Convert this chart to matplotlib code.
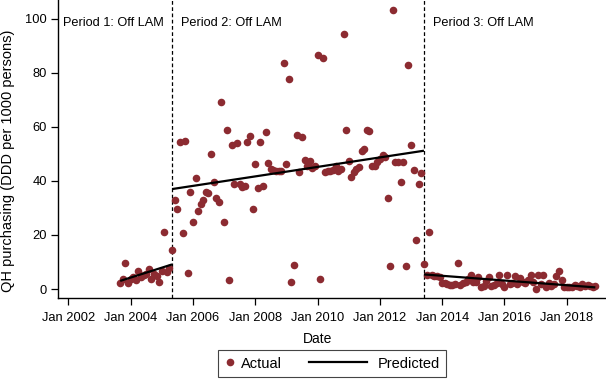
import numpy as np
import pandas as pd
import matplotlib
matplotlib.use("Agg")
import matplotlib.pyplot as plt
from matplotlib.lines import Line2D
from matplotlib.legend_handler import HandlerLine2D

plt.rcParams['font.family'] = ['Liberation Sans', 'DejaVu Sans']

# ---------------- data ----------------
period_labels = ['Period 1: Off LAM', 'Period 2: Off LAM', 'Period 3: Off LAM']
period_starts = ['2003-09-01', '2005-05-01', '2013-06-01']
breaks = ['2005-05-01', '2013-06-01']

actual_p1 = [2.1, 3.7, 9.8, 2.1, 3.8, 4.3, 3.3, 6.8, 4.6, 5.2,
             5.6, 7.4, 3.6, 5.6, 4.8, 2.6, 6.7, 21.0, 6.4, 7.9]

actual_p2 = [14.6, 32.8, 29.6, 54.6, 20.6, 54.9, 6.0, 35.9, 24.9, 41.1,
             29.0, 31.5, 33.0, 36.0, 35.7, 50.0, 39.7, 33.8, 32.3, 69.1,
             24.7, 58.9, 3.3, 53.5, 38.9, 54.2, 38.8, 37.7, 38.3, 54.4,
             56.7, 29.5, 46.4, 37.3, 54.3, 38.1, 58.0, 46.8, 44.6, 44.0,
             43.8, 43.8, 43.8, 83.7, 46.3, 77.7, 2.7, 8.8, 56.9, 43.2,
             56.2, 47.8, 45.7, 47.5, 44.7, 45.7, 86.7, 3.8, 85.4, 43.3,
             43.6, 43.8, 44.1, 45.7, 43.8, 44.3, 94.3, 59.0, 47.5, 41.5,
             43.3, 44.4, 45.3, 51.2, 51.9, 58.9, 58.5, 45.7, 45.7, 47.2,
             48.3, 49.5, 48.8, 33.8, 8.5, 103.3, 47.0, 47.0, 39.6, 47.0,
             8.4, 83.0, 53.2, 44.1, 18.0, 39.0, 42.8]

actual_p3 = [9.4, 5.3, 21.1, 5.1, 4.8, 4.8, 4.3, 2.1, 2.3, 1.9,
             1.6, 1.4, 1.9, 9.5, 1.5, 2.3, 2.7, 3.6, 5.1, 2.7,
             2.7, 4.6, 0.9, 1.1, 3.1, 4.3, 1.1, 1.5, 2.3, 5.1,
             1.9, 0.6, 5.1, 1.9, 2.3, 4.8, 1.9, 4.0, 2.7, 2.1,
             3.3, 5.1, 2.7, 0.0, 5.1, 1.9, 5.1, 0.6, 2.1, 1.1,
             1.9, 4.8, 6.8, 3.3, 0.9, 0.9, 0.9, 0.9, 1.6, 1.1,
             0.9, 1.9, 1.1, 1.4, 1.1, 0.9, 1.1]

pred_dates = [['2003-09-01', '2005-05-01'],
              ['2005-05-01', '2013-06-01'],
              ['2013-06-01', '2018-12-01']]
pred_vals = [[3.0, 9.1], [37.0, 51.2], [5.4, 0.6]]

xtick_years = list(range(2002, 2019, 2))
yticks = [0, 20, 40, 60, 80, 100]

# ---------------- style ----------------
W, H = 606, 383
RED = '#8C2B31'

fig = plt.figure(figsize=(W / 100, H / 100), dpi=100)
ax = fig.add_axes([58 / W, (H - 298.3) / H, (W - 58) / W, 298.3 / H])

for start, vals in zip(period_starts, [actual_p1, actual_p2, actual_p3]):
    d = pd.date_range(start, periods=len(vals), freq='MS')
    ax.scatter(d, vals, s=30, color=RED, linewidths=0, zorder=3)

for dts, vals in zip(pred_dates, pred_vals):
    ax.plot(pd.to_datetime(dts), vals, color='black', lw=1.6, zorder=4,
            solid_capstyle='butt')

for b in breaks:
    ax.axvline(pd.Timestamp(b), color='black', lw=0.9, ls=(0, (3, 2)), zorder=2)

ax.set_xlim(pd.Timestamp('2001-09-02'), pd.Timestamp('2019-04-05'))
ax.set_ylim(-3.44, 107.0)

ax.set_xticks([pd.Timestamp(f'{y}-01-01') for y in xtick_years])
ax.set_xticklabels([f'Jan {y}' for y in xtick_years], fontsize=9.3)
ax.set_yticks(yticks)
ax.set_yticklabels([str(v) for v in yticks], fontsize=9.3)
ax.tick_params(axis='both', direction='out', length=5, width=0.9, color='black')
ax.tick_params(axis='x', pad=5)
ax.tick_params(axis='y', pad=3)

for s in ['top', 'right']:
    ax.spines[s].set_visible(False)
for s in ['left', 'bottom']:
    ax.spines[s].set_linewidth(1.0)

# period labels
ytxt = 98.5
ax.annotate(period_labels[0], xy=(0, ytxt), xycoords=('axes fraction', 'data'),
            xytext=(3.6, 0), textcoords='offset points', va='center', ha='left', fontsize=9.2)
ax.annotate(period_labels[1], xy=(pd.Timestamp(breaks[0]), ytxt), xytext=(6.8, 0),
            textcoords='offset points', va='center', ha='left', fontsize=9.2)
ax.annotate(period_labels[2], xy=(pd.Timestamp(breaks[1]), ytxt), xytext=(6.3, 0),
            textcoords='offset points', va='center', ha='left', fontsize=9.2)

fig.text(8 / W, 1 - 160.5 / H, 'QH purchasing (DDD per 1000 persons)', rotation=90,
         ha='center', va='center', fontsize=10.5)
fig.text(317.6 / W, 1 - 339 / H, 'Date', ha='center', va='center', fontsize=10)


class HandlerSpan(HandlerLine2D):
    def __init__(self, x0, x1, **kw):
        super().__init__(**kw)
        self.x0 = x0
        self.x1 = x1

    def get_xdata(self, legend, xdescent, ydescent, width, height, fontsize):
        xd = np.array([-xdescent + self.x0 * fontsize, -xdescent + self.x1 * fontsize])
        return xd, xd


h_act = Line2D([], [], ls='none', marker='o', markersize=5.5, color=RED, markeredgewidth=0)
h_pred = Line2D([], [], color='black', lw=1.6)
leg = fig.legend([h_act, h_pred], ['Actual', 'Predicted'], ncol=2, loc='center',
                 bbox_to_anchor=(332 / W, 1 - 363.5 / H), bbox_transform=fig.transFigure,
                 fontsize=10.5, handlelength=0.75, handletextpad=0.44, columnspacing=5.34,
                 borderpad=0.43, fancybox=False, framealpha=1, edgecolor='#444444',
                 numpoints=1, handler_map={h_pred: HandlerSpan(-3.5, 0.44)})
leg.get_frame().set_linewidth(0.8)

fig.savefig('out.png', dpi=100)
